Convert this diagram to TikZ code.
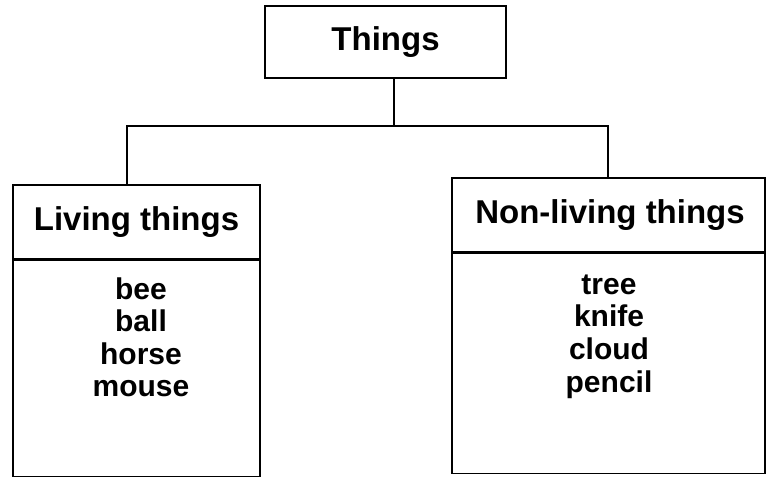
\documentclass[tikz,border=0pt]{standalone}
\usepackage{fontspec}
\setmainfont{Liberation Sans}
\begin{document}
\begin{tikzpicture}[x=1pt,y=-1pt,
  box/.style={draw,line width=1.6pt,rectangle,inner sep=0pt},
  head/.style={font=\fontsize{33}{36}\selectfont\bfseries},
  item/.style={font=\fontsize{30}{32}\selectfont\bfseries,inner sep=0pt,anchor=base}]
\useasboundingbox (0,0) rectangle (767,479);
% Things box
\node[box,minimum width=241pt,minimum height=72pt] (things) at (385.5,42) {};
\node[head] (thingsT) at (385.5,42) {Things};
% left box
\node[box,minimum width=247pt,minimum height=74pt] (lhead) at (136.5,222) {};
\node[head] (lheadT) at (136.5,222) {Living things};
\node[box,minimum width=247pt,minimum height=216pt,anchor=north] (lbody) at (lhead.south) {};
% right box
\node[box,minimum width=313pt,minimum height=74pt] (rhead) at (608.5,215) {};
\node[head] (rheadT) at (610,215) {Non-living things};
\node[box,minimum width=313pt,minimum height=220pt,anchor=north] (rbody) at (rhead.south) {};
% items left
\node[item] (l1) at (141,299) {bee};
\node[item] (l2) at (141,331) {ball};
\node[item] (l3) at (141,364) {horse};
\node[item] (l4) at (141,396) {mouse};
% items right
\node[item] (r1) at (609,294) {tree};
\node[item] (r2) at (609,326) {knife};
\node[item] (r3) at (609,359) {cloud};
\node[item] (r4) at (609,392) {pencil};
% connectors
\coordinate (jt) at (394,126);
\coordinate (jl) at (127,126);
\coordinate (jr) at (608,126);
\draw[line width=1.6pt] (jt |- things.south) -- (jt);
\draw[line width=1.6pt] (jl |- lhead.north) -- (jl) -- (jr) -- (jr |- rhead.north);
\end{tikzpicture}
\end{document}
